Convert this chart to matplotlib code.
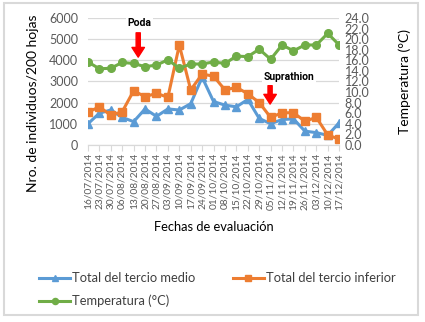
import matplotlib
matplotlib.use('Agg')
from matplotlib import pyplot as plt
from matplotlib.patches import Rectangle

plt.rcParams['font.family'] = ['Lato', 'DejaVu Sans']

fechas = ['16/07/2014', '23/07/2014', '30/07/2014', '06/08/2014', '13/08/2014',
          '20/08/2014', '27/08/2014', '03/09/2014', '10/09/2014', '17/09/2014',
          '24/09/2014', '01/10/2014', '08/10/2014', '15/10/2014', '22/10/2014',
          '29/10/2014', '05/11/2014', '12/11/2014', '19/11/2014', '26/11/2014',
          '03/12/2014', '10/12/2014', '17/12/2014']

tercio_medio = [1000, 1500, 1650, 1300, 1100, 1700, 1350, 1700, 1650, 1950,
                3200, 2050, 1880, 1800, 2150, 1250, 1000, 1200, 1230, 650,
                580, 450, 1050]
tercio_inferior = [1550, 1800, 1400, 1570, 2560, 2280, 2440, 2250, 4720, 2600,
                   3350, 3250, 2600, 2720, 2420, 2000, 1300, 1520, 1520, 1120,
                   1300, 470, 270]
temperatura = [15.7, 14.4, 14.5, 15.6, 15.4, 14.8, 15.1, 16.1, 14.5, 15.3,
               15.3, 15.7, 15.4, 16.8, 16.7, 18.1, 16.2, 18.9, 17.8, 18.9,
               18.9, 21.1, 18.9]

azul = '#5B9BD5'
naranja = '#ED7D31'
verde = '#70AD47'
gris = '#595959'

fig = plt.figure(figsize=(4.25, 3.22), dpi=100)
fig.patches.append(Rectangle((0.01, 0.022), 0.973, 0.97, transform=fig.transFigure,
                             fill=False, edgecolor='#D9D9D9', linewidth=1.5))
ax = fig.add_axes([0.207, 0.55, 0.591, 0.394])
ax2 = ax.twinx()

x = list(range(len(fechas)))
l1, = ax.plot(x, tercio_medio, color=azul, lw=2.2, marker='^', ms=6,
              label='Total del tercio medio', zorder=3)
l2, = ax.plot(x, tercio_inferior, color=naranja, lw=2.2, marker='s', ms=5.5,
              label='Total del tercio inferior', zorder=3)
l3, = ax2.plot(x, temperatura, color=verde, lw=2.2, marker='o', ms=5.5,
               label='Temperatura (°C)', zorder=3)

ax.set_xlim(0, len(fechas) - 1)
ax.set_ylim(0, 6000)
ax.set_yticks(range(0, 6001, 1000))
ax2.set_ylim(0, 24)
ax2.set_yticks([i * 2 for i in range(13)])
ax2.set_yticklabels(['%.1f' % (i * 2) for i in range(13)])

ax.grid(axis='y', color='#D9D9D9', lw=0.9)
ax.set_axisbelow(True)
for a in (ax, ax2):
    for s in ('top', 'left', 'right'):
        a.spines[s].set_visible(False)
    a.spines['bottom'].set_color('#D9D9D9')

ax.set_xticks(x)
ax.set_xticklabels(fechas, rotation=90, fontsize=7.3, color=gris)
ax.tick_params(axis='x', length=4, color='#D9D9D9', pad=2)
ax.tick_params(axis='y', length=0, labelsize=9, labelcolor=gris, pad=7)
ax2.tick_params(axis='y', length=0, labelsize=9, labelcolor=gris, pad=4)

ax.set_ylabel('Nro. de individuos/200 hojas', fontsize=10)
ax.yaxis.set_label_coords(-0.195, 0.33)
ax2.set_ylabel('Temperatura (°C)', fontsize=10)
ax2.yaxis.set_label_coords(1.235, 0.496)
ax.set_xlabel('Fechas de evaluación', fontsize=9.3, labelpad=8)

flecha = dict(facecolor='#FF0000', edgecolor='#FF0000', width=3, headwidth=9, headlength=7)
ax.annotate('', xy=(4.4, 4150), xytext=(4.4, 5300), arrowprops=flecha, zorder=5)
ax.text(4.5, 5750, 'Poda', ha='center', va='center', fontsize=7.5, fontweight='bold',
        family=['Roboto', 'DejaVu Sans'],
        bbox=dict(facecolor='white', edgecolor='none', pad=1))
ax.annotate('', xy=(15.95, 1930), xytext=(15.95, 2800), arrowprops=flecha, zorder=5)
ax.text(17.6, 3200, 'Suprathion', ha='center', va='center', fontsize=7.5, fontweight='bold',
        family=['Roboto', 'DejaVu Sans'],
        bbox=dict(facecolor='white', edgecolor='none', pad=1))

fig.legend(handles=[l1, l3, l2], loc='upper left', bbox_to_anchor=(0.065, 0.19),
           ncol=2, frameon=False, fontsize=9.3, handlelength=2.4, handletextpad=0.15,
           columnspacing=2.9, labelspacing=0.8, labelcolor='#404040', markerscale=0.8)

fig.savefig('out.png', dpi=100)
